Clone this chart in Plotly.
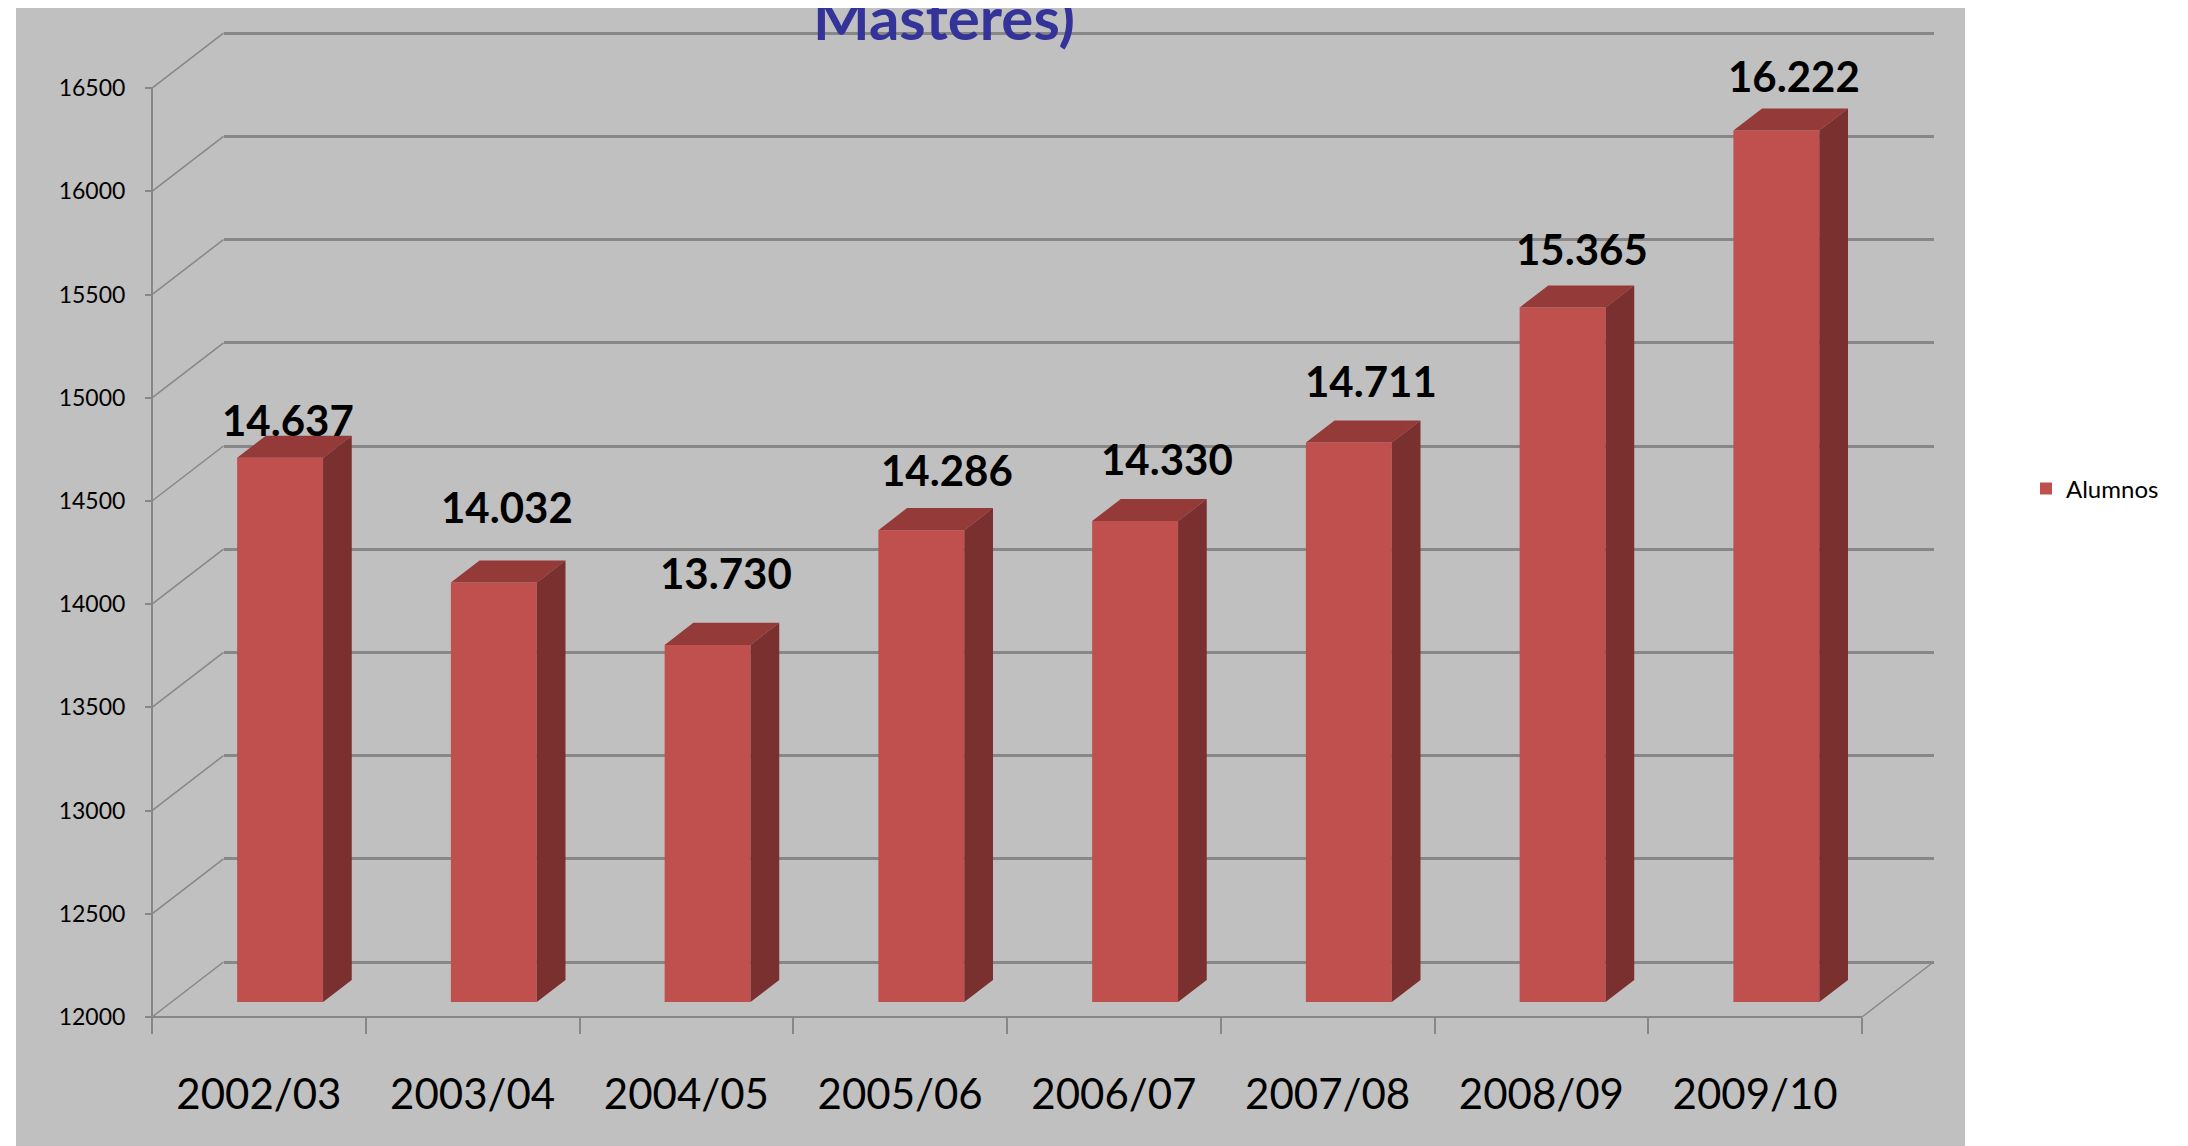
import plotly.graph_objects as go

# ---------------- data ----------------
categories = ["2002/03", "2003/04", "2004/05", "2005/06", "2006/07", "2007/08", "2008/09", "2009/10"]
alumnos = [14637, 14032, 13730, 14286, 14330, 14711, 15365, 16222]
value_labels = ["14.637", "14.032", "13.730", "14.286", "14.330", "14.711", "15.365", "16.222"]
y_ticks = [12000, 12500, 13000, 13500, 14000, 14500, 15000, 15500, 16000, 16500]
series_name = "Alumnos"
title_text = "Másteres)"

# ---------------- layout / style ----------------
OFF = 8                                # page margin of the html body
W, H = 2188 - OFF, 1146 - OFF          # figure size
X_PX0, X_PX_CAT = 152.0 - OFF, 213.75  # px of first category boundary, px per category
Y_PX0, Y_PX_UNIT = 1017.0 - OFF, 0.2064
DX_PX, DY_PX = 71.5, 55.0              # depth of the 3-D box in px
DX, DV = DX_PX / X_PX_CAT, DY_PX / Y_PX_UNIT
D_FRONT, D_BACK = 0.273, 0.674         # bar depth (fraction of box depth)
BAR_C, BAR_HW = 0.508, 0.201           # bar centre and half width within a category
N = len(categories)
VMIN = y_ticks[0]

FRONT_C, TOP_C, SIDE_C = "#C0504D", "#943A38", "#7A302E"
GRID_C = "#878787"
FONT = "Lato"

# label fine positioning (px): horizontal shift and baseline rise above bar top
label_dx = [8, 13, 18, 26, 32, 22, 19, 18]
label_rise = [-1, 36, 33, 21, 23, 22, 19, 15]
LABEL_SIZE = 42
DESC = 0.213 * LABEL_SIZE + 1
TITLE_SIZE = 60

x_range = [-X_PX0 / X_PX_CAT, (W - X_PX0) / X_PX_CAT]
y_range = [VMIN - (H - Y_PX0) / Y_PX_UNIT, VMIN + Y_PX0 / Y_PX_UNIT]


def px_x(p):
    return (p - OFF) / W


def px_y(p):
    return 1 - (p - OFF) / H


def proj(x, v, d):
    return x + d * DX, v + d * DV


fig = go.Figure()

# subplot 1: back wall (gridlines only)
fig.add_trace(go.Scatter(x=[None], y=[None], xaxis="x", yaxis="y",
                         showlegend=False, hoverinfo="skip"))

# subplot 2: bars front faces
fig.add_trace(go.Bar(
    x=[i + BAR_C + D_FRONT * DX for i in range(N)],
    y=[v - VMIN for v in alumnos],
    base=VMIN + D_FRONT * DV,
    width=2 * BAR_HW,
    marker=dict(color=FRONT_C, line=dict(width=0)),
    name=series_name, xaxis="x2", yaxis="y2", hoverinfo="skip",
))

# diagonals from the front axis to the back wall, floor edges, front axis
lx, ly = [], []
for v in y_ticks:
    a = proj(0, v, 0)
    b = proj(0, v, 1)
    lx += [a[0], b[0], None]
    ly += [a[1], b[1], None]
a, b = proj(N, VMIN, 0), proj(N, VMIN, 1)
lx += [a[0], b[0], None]
ly += [a[1], b[1], None]
fig.add_trace(go.Scatter(x=lx, y=ly, mode="lines", line=dict(color=GRID_C, width=1.5),
                         xaxis="x2", yaxis="y2", showlegend=False, hoverinfo="skip"))
fig.add_trace(go.Scatter(x=[0, 0, N], y=[y_ticks[-1], VMIN, VMIN], mode="lines",
                         line=dict(color=GRID_C, width=2),
                         xaxis="x2", yaxis="y2", showlegend=False, hoverinfo="skip"))

# bar top and side faces
tx, ty, sx, sy = [], [], [], []
for i, v in enumerate(alumnos):
    xl, xr = i + BAR_C - BAR_HW, i + BAR_C + BAR_HW
    for p in [(xl, v, D_FRONT), (xr, v, D_FRONT), (xr, v, D_BACK), (xl, v, D_BACK), (xl, v, D_FRONT)]:
        q = proj(*p)
        tx.append(q[0]); ty.append(q[1])
    tx.append(None); ty.append(None)
    for p in [(xr, v, D_FRONT), (xr, v, D_BACK), (xr, VMIN, D_BACK), (xr, VMIN, D_FRONT), (xr, v, D_FRONT)]:
        q = proj(*p)
        sx.append(q[0]); sy.append(q[1])
    sx.append(None); sy.append(None)
fig.add_trace(go.Scatter(x=tx, y=ty, mode="lines", fill="toself", fillcolor=TOP_C,
                         line=dict(width=0, color=TOP_C), xaxis="x2", yaxis="y2",
                         showlegend=False, hoverinfo="skip"))
fig.add_trace(go.Scatter(x=sx, y=sy, mode="lines", fill="toself", fillcolor=SIDE_C,
                         line=dict(width=0, color=SIDE_C), xaxis="x2", yaxis="y2",
                         showlegend=False, hoverinfo="skip"))

# data labels
annotations = []
for i, v in enumerate(alumnos):
    annotations.append(dict(
        x=i + BAR_C + D_FRONT * DX, y=v + D_BACK * DV, xref="x2", yref="y2",
        text=value_labels[i], showarrow=False, xanchor="center", yanchor="bottom",
        xshift=label_dx[i], yshift=label_rise[i] - DESC,
        font=dict(family=FONT, size=LABEL_SIZE, color="black", weight="bold"),
    ))
annotations.append(dict(
    x=px_x(943.5), y=px_y(41 + 0.213 * TITLE_SIZE + 1), xref="paper", yref="paper",
    text=title_text, showarrow=False, xanchor="center", yanchor="bottom",
    font=dict(family=FONT, size=TITLE_SIZE, color="#333399", weight="bold"),
))

shapes = [
    dict(type="rect", xref="paper", yref="paper", x0=px_x(16), x1=px_x(1965), y0=0, y1=1,
         fillcolor="#C0C0C0", line=dict(width=0), layer="below"),
]

fig.update_layout(
    width=W, height=H,
    margin=dict(l=0, r=0, t=0, b=0),
    paper_bgcolor="white", plot_bgcolor="rgba(0,0,0,0)",
    showlegend=True,
    legend=dict(x=px_x(2026), xanchor="left", y=px_y(489), yanchor="middle",
                font=dict(family=FONT, size=24, color="black"), bgcolor="rgba(0,0,0,0)",
                itemwidth=30),
    annotations=annotations, shapes=shapes,
    xaxis=dict(domain=[(X_PX0 + DX_PX) / W, (X_PX0 + N * X_PX_CAT + DX_PX) / W],
               range=[0, 1], visible=False, anchor="y"),
    yaxis=dict(domain=[0, 1], range=[y_range[0] - DV, y_range[1] - DV], anchor="x",
               tickmode="array", tickvals=y_ticks, showgrid=True, gridcolor=GRID_C,
               gridwidth=2.5, showticklabels=False, ticks="", zeroline=False, showline=False),
    xaxis2=dict(domain=[0, 1], range=x_range, anchor="free", position=(H - Y_PX0) / H,
                tickmode="array", tickvals=[i + 0.5 for i in range(N)], ticktext=categories,
                ticks="", showgrid=False, zeroline=False, showline=False,
                tickfont=dict(family=FONT, size=42, color="black"),
                ticklabelstandoff=49,
                minor=dict(tickmode="array", tickvals=list(range(N + 1)), ticks="outside",
                           ticklen=16, tickwidth=2, tickcolor=GRID_C, showgrid=False)),
    yaxis2=dict(domain=[0, 1], range=y_range, anchor="free", position=X_PX0 / W,
                tickmode="array", tickvals=y_ticks, ticktext=[str(v) for v in y_ticks],
                ticks="outside", ticklen=7, tickwidth=1.5, tickcolor=GRID_C,
                showgrid=False, zeroline=False, showline=False,
                tickfont=dict(family=FONT, size=23, color="black"),
                ticklabelstandoff=15),
)

fig.write_html("out.html")
